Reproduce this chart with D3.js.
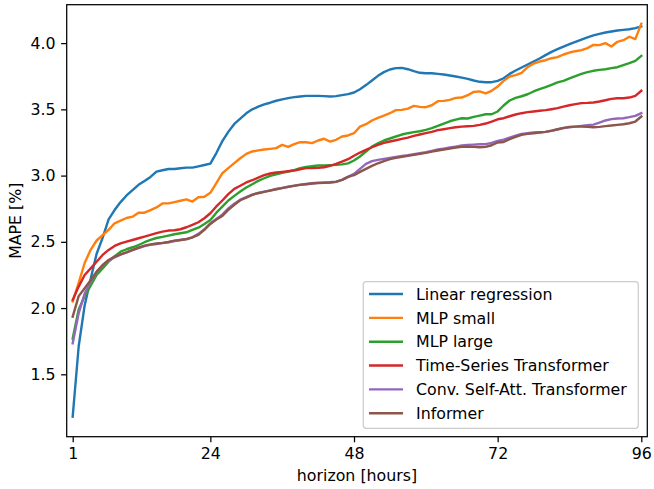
<!DOCTYPE html>
<html>
<head>
<meta charset="utf-8">
<script src="https://cdn.jsdelivr.net/npm/d3@7"></script>
<style>
  html, body { margin: 0; padding: 0; background: #fff; }
  svg { display: block; font-family: "DejaVu Sans", sans-serif; }
</style>
</head>
<body>
<svg id="chart" width="654" height="489"></svg>
<script>
// Forecast horizon in hours (1..96)
const horizons = d3.range(1, 97);

const seriesNames = [
  "Linear regression",
  "MLP small",
  "MLP large",
  "Time-Series Transformer",
  "Conv. Self-Att. Transformer",
  "Informer"
];

const seriesColors = ["#1f77b4", "#ff7f0e", "#2ca02c", "#d62728", "#9467bd", "#8c564b"];

// MAPE [%] per horizon for each model
const linearRegression = [
  1.18, 1.71, 2.02, 2.22, 2.41, 2.53, 2.67, 2.74, 2.80, 2.85, 2.89, 2.93,
  2.96, 2.99, 3.03, 3.04, 3.05, 3.05, 3.055, 3.06, 3.06, 3.07, 3.08, 3.09,
  3.17, 3.26, 3.33, 3.39, 3.43, 3.47, 3.50, 3.52, 3.537, 3.55, 3.565, 3.575,
  3.585, 3.592, 3.597, 3.602, 3.602, 3.602, 3.60, 3.597, 3.60, 3.607, 3.615, 3.627,
  3.652, 3.683, 3.718, 3.753, 3.781, 3.801, 3.811, 3.813, 3.803, 3.788, 3.776, 3.773,
  3.773, 3.768, 3.763, 3.756, 3.748, 3.74, 3.73, 3.718, 3.708, 3.705, 3.705, 3.715,
  3.735, 3.768, 3.793, 3.816, 3.839, 3.861, 3.884, 3.909, 3.934, 3.954, 3.974, 3.992,
  4.01, 4.027, 4.043, 4.058, 4.07, 4.08, 4.088, 4.095, 4.10, 4.105, 4.113, 4.126
];

const mlpSmall = [
  2.05, 2.19, 2.34, 2.44, 2.51, 2.55, 2.59, 2.64, 2.66, 2.68, 2.69, 2.72,
  2.72, 2.74, 2.76, 2.79, 2.79, 2.80, 2.81, 2.82, 2.804, 2.837, 2.84, 2.87,
  2.943, 3.018, 3.056, 3.094, 3.131, 3.164, 3.182, 3.19, 3.197, 3.202, 3.207, 3.232,
  3.217, 3.237, 3.252, 3.252, 3.245, 3.265, 3.278, 3.257, 3.27, 3.295, 3.303, 3.32,
  3.37, 3.388, 3.416, 3.436, 3.453, 3.471, 3.494, 3.496, 3.506, 3.526, 3.519, 3.516,
  3.531, 3.562, 3.564, 3.572, 3.587, 3.589, 3.607, 3.632, 3.635, 3.62, 3.64, 3.672,
  3.715, 3.748, 3.758, 3.776, 3.818, 3.846, 3.861, 3.871, 3.886, 3.894, 3.914, 3.929,
  3.939, 3.947, 3.962, 3.987, 3.985, 4.00, 3.975, 4.01, 4.022, 4.048, 4.03, 4.146
];

const mlpLarge = [
  1.77, 1.99, 2.09, 2.17, 2.25, 2.30, 2.35, 2.39, 2.426, 2.444, 2.459, 2.476,
  2.497, 2.514, 2.529, 2.537, 2.547, 2.557, 2.565, 2.572, 2.59, 2.607, 2.635, 2.665,
  2.72, 2.766, 2.812, 2.847, 2.88, 2.91, 2.935, 2.96, 2.98, 2.998, 3.01, 3.021,
  3.031, 3.041, 3.056, 3.066, 3.071, 3.076, 3.076, 3.079, 3.081, 3.085, 3.092, 3.114,
  3.144, 3.182, 3.219, 3.244, 3.265, 3.28, 3.295, 3.31, 3.32, 3.328, 3.335, 3.345,
  3.358, 3.375, 3.393, 3.41, 3.423, 3.433, 3.431, 3.443, 3.453, 3.463, 3.463, 3.484,
  3.529, 3.567, 3.587, 3.599, 3.614, 3.635, 3.652, 3.667, 3.685, 3.703, 3.715, 3.733,
  3.75, 3.768, 3.781, 3.791, 3.798, 3.803, 3.811, 3.818, 3.834, 3.849, 3.866, 3.904
];

const timeSeriesTransformer = [
  2.061, 2.162, 2.25, 2.30, 2.35, 2.401, 2.439, 2.469, 2.489, 2.502, 2.514, 2.527,
  2.539, 2.552, 2.565, 2.577, 2.585, 2.587, 2.595, 2.61, 2.628, 2.648, 2.678, 2.716,
  2.767, 2.812, 2.86, 2.90, 2.923, 2.948, 2.965, 2.985, 3.003, 3.016, 3.023, 3.028,
  3.033, 3.038, 3.048, 3.056, 3.056, 3.058, 3.063, 3.074, 3.089, 3.106, 3.124, 3.15,
  3.174, 3.194, 3.214, 3.232, 3.247, 3.257, 3.267, 3.277, 3.287, 3.30, 3.31, 3.32,
  3.33, 3.343, 3.35, 3.358, 3.365, 3.37, 3.373, 3.375, 3.383, 3.393, 3.408, 3.425,
  3.433, 3.448, 3.461, 3.471, 3.479, 3.484, 3.489, 3.494, 3.501, 3.509, 3.521, 3.531,
  3.539, 3.547, 3.549, 3.552, 3.559, 3.569, 3.579, 3.584, 3.584, 3.589, 3.602, 3.64
];

const convSelfAttTransformer = [
  1.734, 1.96, 2.11, 2.20, 2.27, 2.32, 2.356, 2.383, 2.404, 2.421, 2.437, 2.452,
  2.467, 2.477, 2.484, 2.49, 2.497, 2.506, 2.514, 2.522, 2.534, 2.56, 2.595, 2.64,
  2.672, 2.705, 2.752, 2.788, 2.818, 2.837, 2.857, 2.869, 2.879, 2.889, 2.899, 2.907,
  2.916, 2.924, 2.932, 2.937, 2.942, 2.946, 2.948, 2.95, 2.954, 2.968, 2.99, 3.013,
  3.051, 3.088, 3.109, 3.119, 3.126, 3.134, 3.141, 3.149, 3.154, 3.161, 3.169, 3.176,
  3.187, 3.197, 3.204, 3.212, 3.219, 3.227, 3.232, 3.234, 3.237, 3.237, 3.247, 3.262,
  3.272, 3.287, 3.302, 3.315, 3.32, 3.325, 3.327, 3.33, 3.338, 3.348, 3.358, 3.365,
  3.37, 3.375, 3.38, 3.385, 3.40, 3.416, 3.426, 3.431, 3.433, 3.441, 3.451, 3.471
];

const informer = [
  1.935, 2.09, 2.15, 2.21, 2.275, 2.325, 2.363, 2.388, 2.406, 2.421, 2.439, 2.456,
  2.471, 2.481, 2.487, 2.492, 2.499, 2.509, 2.514, 2.519, 2.534, 2.552, 2.59, 2.635,
  2.668, 2.696, 2.741, 2.779, 2.814, 2.834, 2.855, 2.867, 2.877, 2.887, 2.897, 2.905,
  2.915, 2.922, 2.93, 2.935, 2.94, 2.943, 2.945, 2.948, 2.953, 2.968, 2.99, 3.003,
  3.028, 3.051, 3.073, 3.093, 3.109, 3.124, 3.134, 3.141, 3.149, 3.156, 3.164, 3.171,
  3.181, 3.189, 3.197, 3.204, 3.212, 3.217, 3.219, 3.217, 3.214, 3.217, 3.229, 3.25,
  3.254, 3.275, 3.292, 3.307, 3.315, 3.32, 3.325, 3.33, 3.34, 3.35, 3.36, 3.368,
  3.37, 3.37, 3.368, 3.365, 3.368, 3.373, 3.378, 3.383, 3.388, 3.395, 3.408, 3.446
];

const seriesValues = [
  linearRegression, mlpSmall, mlpLarge,
  timeSeriesTransformer, convSelfAttTransformer, informer
];

const xTicks = [1, 24, 48, 72, 96];
const yTicks = [1.5, 2.0, 2.5, 3.0, 3.5, 4.0];

// Layout
const plot = { left: 66.7, right: 647.3, top: 4.7, bottom: 436.7 };
const svg = d3.select("#chart");

const x = d3.scaleLinear().domain([0, 97]).range([plot.left, plot.right]);
const y = d3.scaleLinear().domain([1.029, 4.29]).range([plot.bottom, plot.top]);

const fontSize = 15.8;
const lineW = 2.4;
const tickLen = 5.6;

// Lines, clipped to the axes box
svg.append("defs").append("clipPath").attr("id", "plot-clip")
  .append("rect")
  .attr("x", plot.left).attr("y", plot.top)
  .attr("width", plot.right - plot.left).attr("height", plot.bottom - plot.top);

const line = d3.line()
  .x((d, i) => x(horizons[i]))
  .y(d => y(d));

const linesG = svg.append("g").attr("clip-path", "url(#plot-clip)");
seriesValues.forEach((vals, k) => {
  linesG.append("path")
    .datum(vals)
    .attr("d", line)
    .attr("fill", "none")
    .attr("stroke", seriesColors[k])
    .attr("stroke-width", lineW)
    .attr("stroke-linejoin", "round")
    .attr("stroke-linecap", "square");
});

// Axes
const xAxis = svg.append("g")
  .attr("transform", `translate(0,${plot.bottom})`)
  .call(d3.axisBottom(x).tickValues(xTicks).tickSize(tickLen).tickPadding(5.6).tickFormat(d3.format("d")));

const yAxis = svg.append("g")
  .attr("transform", `translate(${plot.left},0)`)
  .call(d3.axisLeft(y).tickValues(yTicks).tickSize(tickLen).tickPadding(5.6).tickFormat(d3.format(".1f")));

[xAxis, yAxis].forEach(g => {
  g.select(".domain").remove();
  g.selectAll(".tick line").attr("stroke", "#000").attr("stroke-width", 1.25);
  g.selectAll(".tick text")
    .attr("fill", "#000")
    .style("font-size", fontSize + "px")
    .style("font-family", "'DejaVu Sans', sans-serif");
});

// Axes frame
svg.append("rect")
  .attr("x", plot.left).attr("y", plot.top)
  .attr("width", plot.right - plot.left).attr("height", plot.bottom - plot.top)
  .attr("fill", "none").attr("stroke", "#000").attr("stroke-width", 1.25);

// Axis titles
svg.append("text")
  .attr("x", (plot.left + plot.right) / 2).attr("y", 481)
  .attr("text-anchor", "middle")
  .style("font-size", fontSize + "px")
  .text("horizon [hours]");

svg.append("text")
  .attr("transform", `translate(21,${(plot.top + plot.bottom) / 2}) rotate(-90)`)
  .attr("text-anchor", "middle")
  .style("font-size", fontSize + "px")
  .text("MAPE [%]");

// Legend
const legend = { x: 363.3, y: 281.7, w: 275, h: 146.6, rowH: 23.85, firstRow: 294 };
const lg = svg.append("g");
lg.append("rect")
  .attr("x", legend.x).attr("y", legend.y)
  .attr("width", legend.w).attr("height", legend.h)
  .attr("rx", 3).attr("ry", 3)
  .attr("fill", "#fff").attr("fill-opacity", 0.8)
  .attr("stroke", "#cccccc").attr("stroke-width", 1.25);

seriesNames.forEach((name, k) => {
  const cy = legend.firstRow + k * legend.rowH;
  lg.append("line")
    .attr("x1", 369).attr("x2", 403)
    .attr("y1", cy).attr("y2", cy)
    .attr("stroke", seriesColors[k]).attr("stroke-width", lineW);
  lg.append("text")
    .attr("x", 416).attr("y", cy).attr("dy", "0.36em")
    .style("font-size", fontSize + "px")
    .text(name);
});
</script>
</body>
</html>
